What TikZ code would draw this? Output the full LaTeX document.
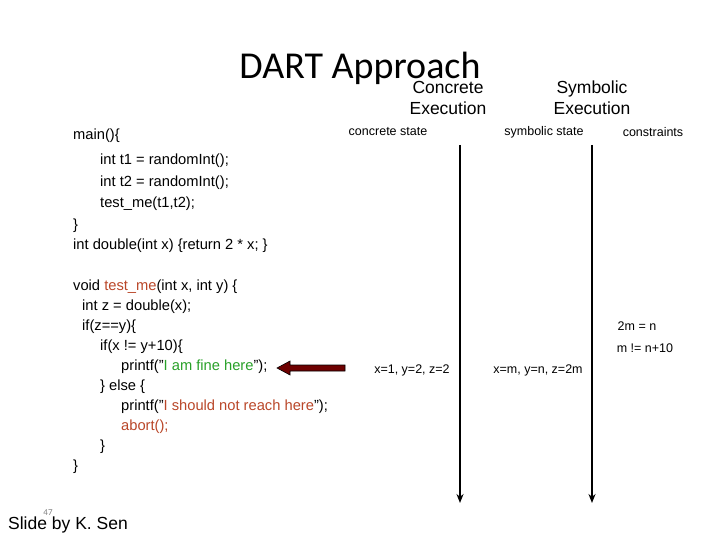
\documentclass[tikz,border=0pt]{standalone}
\usepackage{fontspec}
\usetikzlibrary{arrows.meta}
\setmainfont{Liberation Sans}
\newfontfamily\carl{Carlito}
\begin{document}
\begin{tikzpicture}[x=1pt,y=-1pt,
  code/.style={anchor=west,inner sep=0pt,font=\fontsize{14.7}{16}\selectfont},
  small/.style={inner sep=0pt,font=\fontsize{12.5}{14}\selectfont},
  head/.style={inner sep=0pt,align=center,font=\fontsize{17.5}{21}\selectfont},
  tl/.style={line width=1.5pt,-{Stealth[length=9pt,width=7pt]}}]
\useasboundingbox (0,0) rectangle (720,540);
\definecolor{brn}{RGB}{185,70,40}
\definecolor{grn}{RGB}{40,160,40}
\definecolor{arr}{RGB}{110,0,0}
\node[inner sep=0pt,font=\carl\fontsize{38}{42}\selectfont] (title) at (360,68) {DART Approach};
\node[head] (ce) at (448,98) {Concrete\\Execution};
\node[head] (se) at (592,98) {Symbolic\\Execution};
\node[small] (cs) at (388,132) {concrete state};
\node[small] (ss) at (544,132) {symbolic state};
\node[small] (cn) at (653,132) {constraints};
\coordinate (l1t) at (460,145); \coordinate (l1b) at (460,503);
\coordinate (l2t) at (592,145); \coordinate (l2b) at (592,503);
\draw[tl] (l1t) -- (l1b);
\draw[tl] (l2t) -- (l2b);
\node[code] (a1) at (73,136) {main()\{};
\node[code] (a2) at (100,161) {int t1 = randomInt();};
\node[code] (a3) at (100,183) {int t2 = randomInt();};
\node[code] (a4) at (100,204) {test\_me(t1,t2);};
\node[code] (a5) at (73,226) {\}};
\node[code] (a6) at (73,246) {int double(int x) \{return 2 * x; \}};
\node[code] (b1) at (73,287) {void \textcolor{brn}{test\_me}(int x, int y) \{};
\node[code] (b2) at (82,307) {int z = double(x);};
\node[code] (b3) at (82,327) {if(z==y)\{};
\node[code] (b4) at (100,347) {if(x != y+10)\{};
\node[code] (b5) at (121,367) {printf("\textcolor{grn}{I am fine here}");};
\node[code] (b6) at (100,387) {\} else \{};
\node[code] (b7) at (121,407) {printf("\textcolor{brn}{I should not reach here}");};
\node[code] (b8) at (121,427) {\textcolor{brn}{abort();}};
\node[code] (b9) at (100,447) {\}};
\node[code] (b10) at (73,467) {\}};
\draw[draw=black,line width=0.6pt,fill=arr] (345,365) -- (290,365) -- (290,361) -- (277,368) -- (290,375) -- (290,371) -- (345,371) -- cycle;
\node[small] (v1) at (412,370) {x=1, y=2, z=2};
\node[small] (v2) at (538,370) {x=m, y=n, z=2m};
\node[small] (c1) at (637,326) {2m = n};
\node[small] (c2) at (645,348) {m != n+10};
\node[inner sep=0pt,font=\carl\fontsize{9}{10}\selectfont,text=gray] (pg) at (48,513) {47};
\node[inner sep=0pt,font=\fontsize{17.5}{20}\selectfont] (sl) at (68,525) {Slide by K. Sen};
\end{tikzpicture}
\end{document}
